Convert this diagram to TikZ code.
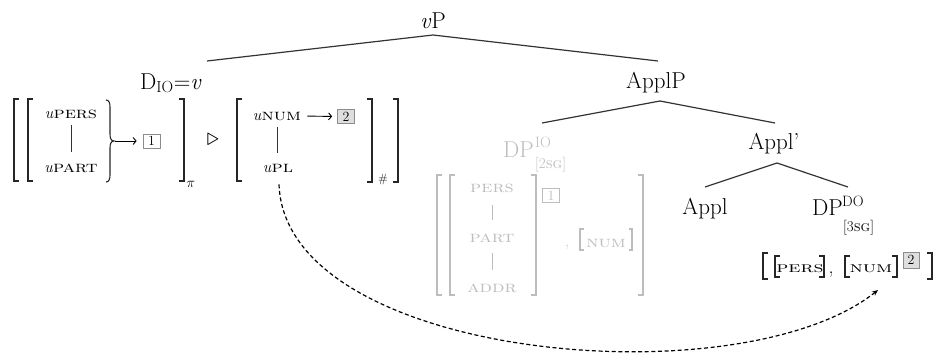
\documentclass[tikz,border=0pt]{standalone}
\usepackage{fontspec}
\usepackage{graphicx}
\usetikzlibrary{arrows.meta}
\definecolor{ghost}{gray}{0.74}
\definecolor{boxfill}{gray}{0.87}
\definecolor{boxline}{gray}{0.55}
\newcommand{\SqL}[4][]{\draw[brk,#1] ({#2+5},#3) -- (#2,#3) -- (#2,#4) -- ({#2+5},#4);}
\newcommand{\SqR}[4][]{\draw[brk,#1] ({#2-5},#3) -- (#2,#3) -- (#2,#4) -- ({#2-5},#4);}
\newcommand{\wsc}[1]{\scalebox{1.25}[1]{\textsc{#1}}}
\newcommand{\wwsc}[1]{\scalebox{1.45}[1]{\textsc{#1}}}
\begin{document}
\begin{tikzpicture}[x=1pt,y=-1pt,
  big/.style={font=\fontsize{23}{25}\selectfont, inner sep=0pt},
  supfont/.style={font=\fontsize{15}{16}\selectfont, inner sep=0pt},
  feat/.style={font=\fontsize{16}{17}\selectfont, inner sep=0pt},
  gfeat/.style={font=\fontsize{16}{17}\selectfont, inner sep=0pt, text=ghost},
  dofeat/.style={font=\fontsize{15}{16}\selectfont, inner sep=0pt},
  tree/.style={line width=1.2pt, black!80},
  brk/.style={line width=1.4pt, black!85},
  bar/.style={line width=0.9pt, black!80},
  gbar/.style={line width=0.9pt, ghost},
  numbox/.style={draw=boxline, line width=0.7pt, inner sep=0pt, minimum width=17pt, minimum height=14pt, font=\fontsize{14}{14}\selectfont},
  featarrow/.style={line width=0.9pt, -{Straight Barb[length=3pt,width=7pt]}},
  agree/.style={line width=1.2pt, dash pattern=on 4pt off 2.6pt, -{Stealth[length=6pt,width=5pt]}}
]
\useasboundingbox (0,0) rectangle (935,356);

% ---------- tree labels ----------
\node[big, anchor=base] (vP) at (433,28) {\textit{v}P};
\node[big, anchor=base west] (DIO) at (140,89) {D\textsubscript{IO}=\textit{v}};
\node[big, anchor=base] (ApplP) at (656,88) {ApplP};
\node[big, anchor=base] (Applbar) at (774,149) {Appl’};
\node[big, anchor=base] (Appl) at (705,214) {Appl};
\node[big, anchor=base west] (DPDO) at (812,215) {DP};
\node[supfont, anchor=base west] (DOsup) at (842,206) {DO};
\node[supfont, anchor=base west] (DOsub) at (843,231) {[3\textsc{sg}]};
\node[big, anchor=base west, text=ghost] (DPIO) at (503,157) {DP};
\node[supfont, anchor=base west, text=ghost] (IOsup) at (535,147) {IO};
\node[supfont, anchor=base west, text=ghost] (IOsub) at (535,168) {[2\textsc{sg}]};

% ---------- tree branches ----------
\coordinate (vPj) at (433,35);
\coordinate (DIOt) at (207,61);
\coordinate (ApplPt) at (658,61);
\coordinate (ApplPj) at (660,101);
\coordinate (DPIOt) at (542,123);
\coordinate (Applbart) at (775,123);
\coordinate (Applbarj) at (777,163);
\coordinate (Applt) at (705,187);
\coordinate (DPDOt) at (848,187);
\draw[tree] (DIOt) -- (vPj) -- (ApplPt);
\draw[tree] (DPIOt) -- (ApplPj) -- (Applbart);
\draw[tree] (Applt) -- (Applbarj) -- (DPDOt);

% ---------- probe feature structure (left) ----------
\SqL{14}{99}{181}
\SqL{28}{99}{181}
\node[feat, anchor=base] (uPERS) at (71,118) {\textit{u}\wsc{pers}};
\node[feat, anchor=base] (uPART) at (71,172) {\textit{u}\wsc{part}};
\draw[bar, shorten <=7pt, shorten >=11pt] (uPERS.south) -- (uPERS.south |- uPART.north);
\draw[brk, line width=1.1pt] (106,100) .. controls (109,100) and (110,103) .. (110,107) -- (110,134)
   .. controls (110,138) and (111,141) .. (114,141) .. controls (111,141) and (110,144) .. (110,148)
   -- (110,175) .. controls (110,179) and (109,182) .. (106,182);
\coordinate (bracetip) at (114,141);
\node[numbox] (box1) at (151.5,141) {1};
\draw[featarrow, shorten <=1pt, shorten >=6pt] (bracetip) -- (box1.west);
\SqR{184}{99}{181}
\node[font=\fontsize{15}{15}\selectfont, inner sep=0pt, anchor=base] (pi) at (191,187) {$\pi$};
\node[font=\fontsize{30}{30}\selectfont, inner sep=0pt] (rhd) at (213,140) {$\triangleright$};
\SqL{237}{99}{181}
\node[feat, anchor=base] (uNUM) at (277,120) {\textit{u}\wsc{num}};
\node[feat, anchor=base] (uPL) at (278,172) {\textit{u}\wsc{pl}};
\draw[bar, shorten <=7pt, shorten >=11pt] (uNUM.south) -- (uNUM.south |- uPL.north);
\node[numbox, fill=boxfill] (box2) at (346,116.5) {2};
\draw[featarrow, shorten <=6pt, shorten >=5pt] (uNUM.east) -- (box2.west);
\SqR{372}{99}{182}
\node[font=\fontsize{12}{12}\selectfont, inner sep=0pt, anchor=base] (hash) at (383,182) {\#};
\SqR{398}{99}{182}

% ---------- DP_IO feature structure (ghost) ----------
\SqL[ghost]{437}{175}{295}
\SqL[ghost]{450}{175}{295}
\node[gfeat, anchor=base] (PERS) at (492,192) {\wsc{pers}};
\node[gfeat, anchor=base] (PART) at (492,242) {\wsc{part}};
\node[gfeat, anchor=base] (ADDR) at (492,292) {\wsc{addr}};
\draw[gbar, shorten <=13pt, shorten >=13pt] (PERS.south) -- (PERS.south |- PART.north);
\draw[gbar, shorten <=11pt, shorten >=13pt] (PART.south) -- (PART.south |- ADDR.north);
\SqR[ghost]{536}{175}{295}
\node[numbox, draw=ghost, text=ghost] (box1g) at (551,195.5) {1};
\node[gfeat, anchor=base] (IOcomma) at (567,246) {,};
\node[gfeat, anchor=base] (IOnum) at (606,247) {\wsc{num}};
\SqL[ghost, line width=1.1pt, shorten <=1.5pt, shorten >=1.5pt]{580}{229}{250}
\SqR[ghost, line width=1.1pt, shorten <=1.5pt, shorten >=1.5pt]{632}{229}{250}
\SqR[ghost]{643}{175}{295}

% ---------- DP_DO features ----------
\SqL{763}{253}{279}
\SqL[line width=1.2pt]{775}{256}{277}
\node[dofeat, anchor=base] (DOpers) at (800,272) {\wwsc{pers}};
\SqR[line width=1.2pt]{824}{256}{277}
\node[font=\fontsize{20}{20}\selectfont, inner sep=0pt, anchor=base] (DOcomma) at (831,273) {,};
\SqL[line width=1.2pt]{845}{256}{277}
\node[dofeat, anchor=base] (DOnum) at (871,272) {\wwsc{num}};
\SqR[line width=1.2pt]{897}{256}{277}
\node[numbox, fill=boxfill, minimum width=16pt, minimum height=16pt] (box2do) at (911,260) {2};
\SqR{932}{253}{279}
\coordinate (agreeEnd) at (878,290);

% ---------- agreement arrow ----------
\draw[agree] (uPL.south) ++(1,12) .. controls (285,360) and (740,400) .. (agreeEnd);
\end{tikzpicture}
\end{document}
